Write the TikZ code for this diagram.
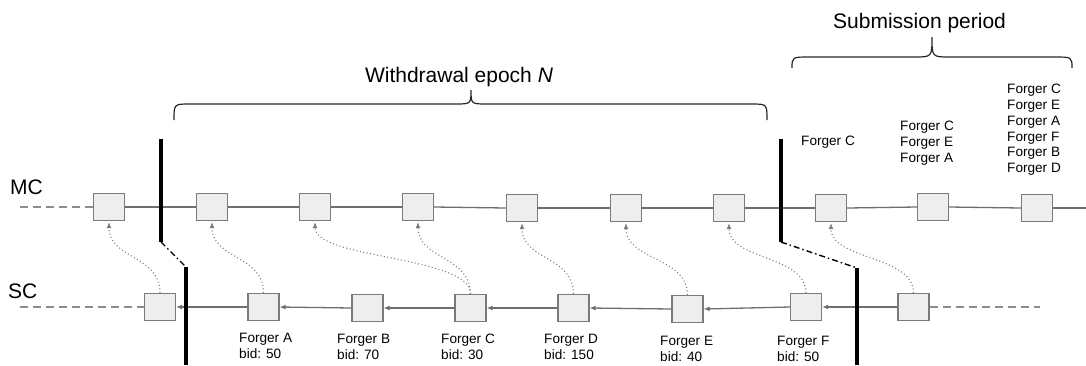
\documentclass[tikz,border=0pt]{standalone}
\usepackage{fontspec}
\setmainfont{Liberation Sans}
\usetikzlibrary{arrows.meta}
\definecolor{linegray}{HTML}{6E6E6E}
\definecolor{dashgray}{HTML}{8C8C8C}
\definecolor{boxgray}{HTML}{7A7A7A}
\definecolor{boxfill}{HTML}{EEEEEE}
\definecolor{dotgray}{HTML}{7C7C7C}
\begin{document}
\begin{tikzpicture}[x=1pt,y=-1pt,
  blk/.style={draw=boxgray, fill=boxfill, line width=1.2pt, minimum width=31pt, minimum height=27pt, inner sep=0pt},
  chainline/.style={draw=linegray, line width=1.3pt},
  sclink/.style={chainline, -{Latex[length=6pt,width=5pt]}},
  dashline/.style={draw=dashgray, line width=1.3pt, dash pattern=on 8pt off 5pt},
  subarrow/.style={draw=dotgray, line width=1.1pt, dash pattern=on 1pt off 2.5pt, -{Latex[length=6pt,width=5pt]}, shorten >=1pt},
  epochline/.style={line width=4pt, draw=black},
  handover/.style={draw=black, line width=1.4pt, dash pattern=on 6pt off 3pt on 1.5pt off 3pt},
  bracket/.style={draw=black!85, line width=1.2pt},
  lbl/.style={font=\fontsize{13.6}{15.8}\selectfont, align=left, inner sep=0pt, anchor=north west},
  heading/.style={font=\fontsize{21}{24}\selectfont, inner sep=0pt}
]
\useasboundingbox (0,0) rectangle (1086,365);

% chain labels
\node[heading, anchor=base west] (mclbl) at (10,194) {MC};
\node[heading, anchor=base west] (sclbl) at (8,298) {SC};

% MC blocks
\node[blk] (m1) at (109,207) {};
\node[blk] (m2) at (212,207) {};
\node[blk] (m3) at (315,207) {};
\node[blk] (m4) at (418,207) {};
\node[blk] (m5) at (522,208) {};
\node[blk] (m6) at (626,208) {};
\node[blk] (m7) at (729,208) {};
\node[blk] (m8) at (831,208) {};
\node[blk] (m9) at (933,207) {};
\node[blk] (m10) at (1037,208) {};

% SC blocks
\node[blk] (s0) at (160,307) {};
\node[blk] (sA) at (263.5,307) {};
\node[blk] (sB) at (367.5,308) {};
\node[blk] (sC) at (470.5,308) {};
\node[blk] (sD) at (573.5,308) {};
\node[blk] (sE) at (687.5,309) {};
\node[blk] (sF) at (806,307) {};
\node[blk] (s7) at (913.5,307) {};

% chain ends
\coordinate (mcstart) at (20,207);
\coordinate (mcend) at (1086,208);
\coordinate (scstart) at (20,307);
\coordinate (scend) at (1040,307);

\draw[dashline] (mcstart) -- (m1.west);
\draw[dashline] (scstart) -- (s0.west);
\draw[dashline] (s7.east) -- (scend);

\draw[chainline] (m1.east) -- (m2.west);
\draw[chainline] (m2.east) -- (m3.west);
\draw[chainline] (m3.east) -- (m4.west);
\draw[chainline] (m4.east) -- (m5.west);
\draw[chainline] (m5.east) -- (m6.west);
\draw[chainline] (m6.east) -- (m7.west);
\draw[chainline] (m7.east) -- (m8.west);
\draw[chainline] (m8.east) -- (m9.west);
\draw[chainline] (m9.east) -- (m10.west);
\draw[chainline] (m10.east) -- (mcend);

\draw[sclink] (s7.west) -- (sF.east);
\draw[sclink] (sF.west) -- (sE.east);
\draw[sclink] (sE.west) -- (sD.east);
\draw[sclink] (sD.west) -- (sC.east);
\draw[sclink] (sC.west) -- (sB.east);
\draw[sclink] (sB.west) -- (sA.east);
\draw[sclink] (sA.west) -- (s0.east);

% references from SC blocks to MC blocks
\draw[subarrow] (s0.north) .. controls +(0,-38) and +(0,38) .. (m1.south);
\draw[subarrow] (sA.north) .. controls +(0,-38) and +(0,38) .. (m2.south);
\draw[subarrow] (sC.north) .. controls +(0,-38) and +(0,38) .. (m3.south);
\draw[subarrow] (sC.north) .. controls +(0,-38) and +(0,38) .. (m4.south);
\draw[subarrow] (sD.north) .. controls +(0,-38) and +(0,38) .. (m5.south);
\draw[subarrow] (sE.north) .. controls +(0,-38) and +(0,38) .. (m6.south);
\draw[subarrow] (sF.north) .. controls +(0,-38) and +(0,38) .. (m7.south);
\draw[subarrow] (s7.north) .. controls +(0,-38) and +(0,38) .. (m8.south);

% epoch boundaries
\coordinate (e1t) at (161,139);
\coordinate (e1b) at (161,242);
\coordinate (e2t) at (186,267);
\coordinate (e2b) at (186,365);
\coordinate (f1t) at (781,139);
\coordinate (f1b) at (781,242);
\coordinate (f2t) at (857,268);
\coordinate (f2b) at (857,365);
\draw[epochline] (e1t) -- (e1b);
\draw[handover] (e1b) -- (e2t);
\draw[epochline] (e2t) -- (e2b);
\draw[epochline] (f1t) -- (f1b);
\draw[handover] (f1b) -- (f2t);
\draw[epochline] (f2t) -- (f2b);

% braces
\draw[bracket] (174,120) .. controls (174,104) .. (190,104) -- (455,104)
  .. controls (471,104) .. (471,90) .. controls (471,104) .. (487,104)
  -- (751,104) .. controls (767,104) .. (767,120);
\draw[bracket] (792,68) .. controls (792,57) .. (810,57) -- (914,57)
  .. controls (932,57) .. (932,37) .. controls (932,57) .. (950,57)
  -- (1054,57) .. controls (1072,57) .. (1072,68);
\node[heading, anchor=base] (wlbl) at (459,82) {Withdrawal epoch \textit{N}};
\node[heading, anchor=base west] (plbl) at (833,28) {Submission period};

% forger labels under SC blocks
\node[lbl] (lA) at (239,333) {Forger A\\bid: 50};
\node[lbl] (lB) at (337,334) {Forger B\\bid: 70};
\node[lbl] (lC) at (441,334) {Forger C\\bid: 30};
\node[lbl] (lD) at (544,334) {Forger D\\bid: 150};
\node[lbl] (lE) at (660,336) {Forger E\\bid: 40};
\node[lbl] (lF) at (777,336) {Forger F\\bid: 50};

% forger lists above MC blocks
\node[lbl] (q1) at (801,136) {Forger C};
\node[lbl] (q2) at (900,121) {Forger C\\Forger E\\Forger A};
\node[lbl] (q3) at (1007,84) {Forger C\\Forger E\\Forger A\\Forger F\\Forger B\\Forger D};
\end{tikzpicture}
\end{document}
